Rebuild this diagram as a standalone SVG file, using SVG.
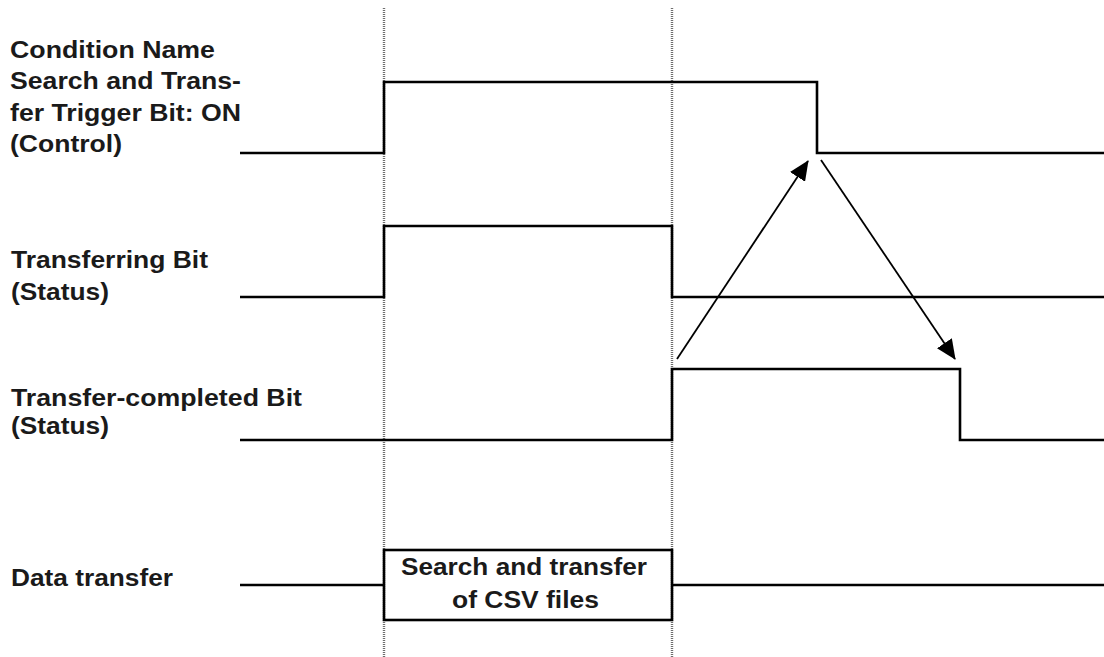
<svg xmlns="http://www.w3.org/2000/svg" width="1104" height="657" viewBox="0 0 1104 657">
<style>
.lbl{font-family:"Liberation Sans",Arial,sans-serif;font-weight:bold;font-size:23.5px;fill:#1a1a1a}
.sig{fill:none;stroke:#000;stroke-width:2.6;stroke-linejoin:miter}
.grid{stroke:#6e6e6e;stroke-width:2.4;stroke-dasharray:1 1}
.arr{stroke:#000;stroke-width:1.8;fill:none;marker-end:url(#ah)}
</style>
<defs>
<marker id="ah" viewBox="0 0 20 18" refX="19" refY="9" markerWidth="20" markerHeight="18" markerUnits="userSpaceOnUse" orient="auto">
<path d="M0,0 L20,9 L0,18 Z" fill="#000"/>
</marker>
</defs>
<rect width="1104" height="657" fill="#fff"/>
<g id="gridlines">
<line class="grid" x1="384" y1="8" x2="384" y2="657"/>
<line class="grid" x1="672" y1="8" x2="672" y2="657"/>
</g>
<g id="trigger">
<text class="lbl" x="10" y="58" textLength="205" lengthAdjust="spacingAndGlyphs">Condition Name</text>
<text class="lbl" x="10" y="89" textLength="231" lengthAdjust="spacingAndGlyphs">Search and Trans-</text>
<text class="lbl" x="10" y="121" textLength="231" lengthAdjust="spacingAndGlyphs">fer Trigger Bit: ON</text>
<text class="lbl" x="10" y="152" textLength="112" lengthAdjust="spacingAndGlyphs">(Control)</text>
<polyline class="sig" points="240,153 384,153 384,82 817,82 817,153 1104,153"/>
</g>
<g id="transferring">
<text class="lbl" x="11" y="268" textLength="197" lengthAdjust="spacingAndGlyphs">Transferring Bit</text>
<text class="lbl" x="11" y="300" textLength="98" lengthAdjust="spacingAndGlyphs">(Status)</text>
<polyline class="sig" points="240,297 384,297 384,226 672,226 672,297 1104,297"/>
</g>
<g id="completed">
<text class="lbl" x="11" y="406" textLength="291" lengthAdjust="spacingAndGlyphs">Transfer-completed Bit</text>
<text class="lbl" x="11" y="434" textLength="98" lengthAdjust="spacingAndGlyphs">(Status)</text>
<polyline class="sig" points="240,440 672,440 672,369 960,369 960,440 1104,440"/>
</g>
<g id="datatransfer">
<text class="lbl" x="11" y="586" textLength="162" lengthAdjust="spacingAndGlyphs">Data transfer</text>
<line class="sig" x1="240" y1="585" x2="384" y2="585"/>
<rect class="sig" x="384" y="550" width="288" height="70"/>
<line class="sig" x1="672" y1="585" x2="1104" y2="585"/>
<text class="lbl" x="401" y="575" textLength="246" lengthAdjust="spacingAndGlyphs">Search and transfer</text>
<text class="lbl" x="452" y="608" textLength="147" lengthAdjust="spacingAndGlyphs">of CSV files</text>
</g>
<g id="connectors">
<line class="arr" x1="677" y1="359" x2="808" y2="161"/>
<line class="arr" x1="821" y1="160" x2="955" y2="359"/>
</g>
</svg>
